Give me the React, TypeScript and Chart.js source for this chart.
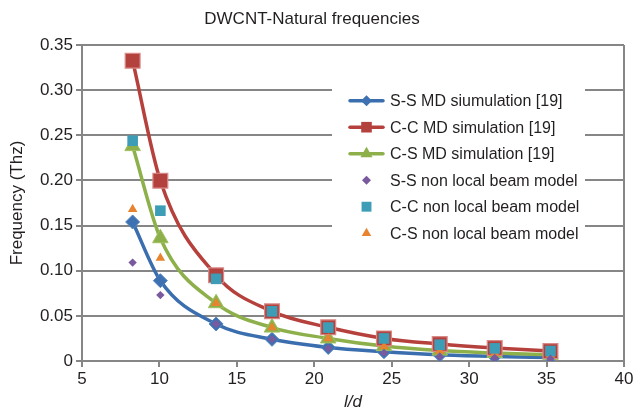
import React, { useEffect, useRef } from 'react';
import { Chart, registerables } from 'chart.js';

Chart.register(...registerables);

// ---- data ----
const ratios = [8.27, 10.06, 13.66, 17.27, 20.9, 24.5, 28.1, 31.65, 35.25];
const ssMD = [0.154, 0.089, 0.041, 0.024, 0.015, 0.0103, 0.0068, 0.005, 0.0038];
const ccMD = [0.3326, 0.1997, 0.0949, 0.055, 0.0373, 0.025, 0.0188, 0.0144, 0.011];
const csMD = [0.238, 0.136, 0.064, 0.037, 0.025, 0.0165, 0.0115, 0.0088, 0.0068];
const ssNL = [0.109, 0.073, 0.041, 0.024, 0.014, 0.009, 0.005, 0.0035, 0.0025];
const ccNL = [0.244, 0.1665, 0.091, 0.055, 0.037, 0.025, 0.018, 0.014, 0.011];
const csNL = [0.168, 0.114, 0.064, 0.037, 0.025, 0.016, 0.011, 0.0085, 0.0066];

const seriesNames = [
  'S-S MD siumulation [19]',
  'C-C MD simulation [19]',
  'C-S MD simulation [19]',
  'S-S non local beam model',
  'C-C non local beam model',
  'C-S non local beam model',
];

const xTicks = [5, 10, 15, 20, 25, 30, 35, 40];
const yTicks = [0, 0.05, 0.1, 0.15, 0.2, 0.25, 0.3, 0.35];

const chartTitle = 'DWCNT-Natural frequencies';
const xTitle = 'l/d';
const yTitle = 'Frequency (Thz)';

const FONT = "'Liberation Sans', Arial, Helvetica, sans-serif";
const TEXT = '#231f20';
const GRID = '#868686';

const pts = (ys: number[]) => ratios.map((x, i) => ({ x, y: ys[i] }));

function drawMarker(ctx: CanvasRenderingContext2D, style: string, x: number, y: number, r: number, fill: string, stroke: string, bw: number) {
  ctx.save();
  ctx.beginPath();
  if (style === 'rectRot') {
    ctx.moveTo(x, y - r);
    ctx.lineTo(x + r, y);
    ctx.lineTo(x, y + r);
    ctx.lineTo(x - r, y);
    ctx.closePath();
  } else if (style === 'rect') {
    const s = r * Math.SQRT1_2;
    ctx.rect(x - s, y - s, 2 * s, 2 * s);
  } else if (style === 'triangle') {
    let a = 0;
    ctx.moveTo(x + Math.sin(a) * r, y - Math.cos(a) * r);
    a += (2 * Math.PI) / 3;
    ctx.lineTo(x + Math.sin(a) * r, y - Math.cos(a) * r);
    a += (2 * Math.PI) / 3;
    ctx.lineTo(x + Math.sin(a) * r, y - Math.cos(a) * r);
    ctx.closePath();
  }
  ctx.fillStyle = fill;
  ctx.fill();
  if (bw > 0) {
    ctx.lineWidth = bw;
    ctx.strokeStyle = stroke;
    ctx.stroke();
  }
  ctx.restore();
}

const legendPlugin = {
  id: 'insideLegend',
  afterDraw(chart: any) {
    const ctx: CanvasRenderingContext2D = chart.ctx;
    const area = chart.chartArea;
    const boxX = area.left + 250;
    const boxY = area.top + 41;
    ctx.save();
    ctx.fillStyle = '#ffffff';
    ctx.fillRect(boxX, boxY, 253, 162);
    const legendOrder = [0, 1, 2, 3, 4, 5];
    legendOrder.forEach((di, i) => {
      const ds = chart.data.datasets[di];
      const cy = boxY + 14.7 + i * 26.5;
      const lx0 = boxX + 18;
      const lx1 = boxX + 51;
      const mx = (lx0 + lx1) / 2;
      if (ds.showLine !== false) {
        ctx.beginPath();
        ctx.moveTo(lx0, cy);
        ctx.lineTo(lx1, cy);
        ctx.strokeStyle = ds.borderColor;
        ctx.lineWidth = 3.5;
        ctx.lineCap = 'round';
        ctx.stroke();
      }
      drawMarker(ctx, ds.pointStyle, mx, cy, ds.legendRadius, ds.pointBackgroundColor, ds.pointBorderColor, 0);
      ctx.fillStyle = TEXT;
      ctx.font = `16px ${FONT}`;
      ctx.textBaseline = 'middle';
      ctx.textAlign = 'left';
      ctx.fillText(ds.label, boxX + 58, cy + 1);
    });
    ctx.restore();
  },
};

export default function App() {
  const ref = useRef<HTMLCanvasElement>(null);

  useEffect(() => {
    if (!ref.current) return;
    const chart = new Chart(ref.current, {
      type: 'line',
      data: {
        datasets: [
          {
            label: seriesNames[0],
            data: pts(ssMD),
            borderColor: '#3a6eae',
            backgroundColor: '#3a6eae',
            pointBackgroundColor: '#3d71b1',
            pointBorderColor: '#5585c0',
            pointBorderWidth: 1,
            pointStyle: 'rectRot',
            pointRadius: 7,
            borderWidth: 3.5,
            cubicInterpolationMode: 'monotone',
            order: 3,
            legendRadius: 5.5,
          } as any,
          {
            label: seriesNames[1],
            data: pts(ccMD),
            borderColor: '#b5403c',
            backgroundColor: '#b5403c',
            pointBackgroundColor: '#b3423e',
            pointBorderColor: '#d98a88',
            pointBorderWidth: 1.2,
            pointStyle: 'rect',
            pointRadius: 10.5,
            borderWidth: 3.5,
            cubicInterpolationMode: 'monotone',
            order: 1,
            legendRadius: 7.5,
          } as any,
          {
            label: seriesNames[2],
            data: pts(csMD),
            borderColor: '#8db04b',
            backgroundColor: '#8db04b',
            pointBackgroundColor: '#8db04b',
            pointBorderColor: '#9fc060',
            pointBorderWidth: 1,
            pointStyle: 'triangle',
            pointRadius: 9,
            borderWidth: 3.5,
            cubicInterpolationMode: 'monotone',
            order: 2,
            legendRadius: 7,
          } as any,
          {
            label: seriesNames[3],
            data: pts(ssNL),
            showLine: false,
            borderColor: '#7a5a9f',
            backgroundColor: '#7a5a9f',
            pointBackgroundColor: '#7a5a9f',
            pointBorderColor: '#7a5a9f',
            pointBorderWidth: 0,
            pointStyle: 'rectRot',
            pointRadius: 4.2,
            order: 0,
            legendRadius: 4.5,
          } as any,
          {
            label: seriesNames[4],
            data: pts(ccNL),
            showLine: false,
            borderColor: '#3d9db6',
            backgroundColor: '#3d9db6',
            pointBackgroundColor: '#3d9db6',
            pointBorderColor: '#3d9db6',
            pointBorderWidth: 0,
            pointStyle: 'rect',
            pointRadius: 7.5,
            order: 0,
            legendRadius: 7,
          } as any,
          {
            label: seriesNames[5],
            data: pts(csNL),
            showLine: false,
            borderColor: '#e8842f',
            backgroundColor: '#e8842f',
            pointBackgroundColor: '#e8842f',
            pointBorderColor: '#e8842f',
            pointBorderWidth: 0,
            pointStyle: 'triangle',
            pointRadius: 5.5,
            order: 0,
            legendRadius: 5.5,
          } as any,
        ],
      },
      options: {
        animation: false,
        responsive: true,
        maintainAspectRatio: false,
        devicePixelRatio: 1,
        layout: { padding: { left: 0, right: 15, top: 0, bottom: 0 } },
        plugins: {
          legend: { display: false },
          tooltip: { enabled: false },
          title: {
            display: true,
            text: chartTitle,
            color: TEXT,
            font: { family: FONT, size: 17, weight: 'normal' },
            padding: { top: 9, bottom: 15.6 },
          },
        },
        scales: {
          x: {
            type: 'linear',
            min: 5,
            max: 40,
            afterFit: (s: any) => { s.height = 51; },
            afterBuildTicks: (s: any) => { s.ticks = xTicks.map((v) => ({ value: v })); },
            ticks: {
              color: TEXT,
              font: { family: FONT, size: 17 },
              padding: 2,
              maxRotation: 0,
              callback: (v: any) => String(v),
            },
            grid: {
              drawOnChartArea: true,
              color: (c: any) => (c.tick && c.tick.value === 40 ? GRID : 'rgba(0,0,0,0)'),
              tickColor: GRID,
              lineWidth: 2,
              tickLength: 6,
            },
            border: { display: true, color: GRID, width: 2 },
            title: {
              display: true,
              text: xTitle,
              color: TEXT,
              font: { family: FONT, size: 17, style: 'italic' },
              padding: { top: 0, bottom: 0 },
            },
          },
          y: {
            type: 'linear',
            min: 0,
            max: 0.35,
            afterFit: (s: any) => { s.width = 82; },
            afterBuildTicks: (s: any) => { s.ticks = yTicks.map((v) => ({ value: v })); },
            ticks: {
              color: TEXT,
              font: { family: FONT, size: 17 },
              padding: 3,
              callback: (v: any) => (Number(v) === 0 ? '0' : Number(v).toFixed(2)),
            },
            grid: {
              color: GRID,
              lineWidth: 2,
              tickLength: 6,
            },
            border: { display: true, color: GRID, width: 2 },
            title: {
              display: true,
              text: yTitle,
              color: TEXT,
              font: { family: FONT, size: 17 },
              padding: { top: 7, bottom: 0 },
            },
          },
        },
      } as any,
      plugins: [legendPlugin],
    });
    return () => chart.destroy();
  }, []);

  return (
    <div style={{ position: 'absolute', left: 0, top: 0, width: 639, height: 412, background: '#fff' }}>
      <canvas ref={ref} />
    </div>
  );
}
